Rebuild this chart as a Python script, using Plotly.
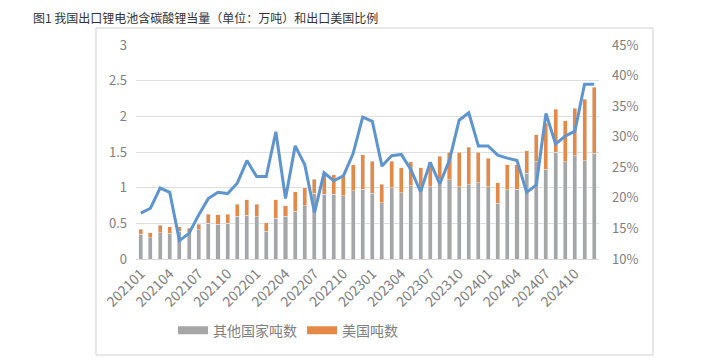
import plotly.graph_objects as go

months = [f"{y}{m:02d}" for y in (2021, 2022, 2023, 2024) for m in range(1, 13)]

other_tons = [0.35, 0.30, 0.37, 0.36, 0.39, 0.37, 0.41, 0.50, 0.49, 0.50, 0.60, 0.61,
              0.59, 0.39, 0.57, 0.60, 0.67, 0.75, 0.92, 0.91, 0.91, 0.89, 0.96, 0.98,
              0.92, 0.79, 1.00, 0.93, 1.03, 1.01, 1.01, 1.12, 1.11, 1.01, 1.04, 1.07,
              1.01, 0.78, 0.97, 0.98, 1.20, 1.36, 1.26, 1.50, 1.36, 1.45, 1.38, 1.48]
us_tons = [0.07, 0.07, 0.10, 0.09, 0.06, 0.06, 0.08, 0.13, 0.13, 0.13, 0.17, 0.22,
           0.18, 0.12, 0.26, 0.15, 0.27, 0.25, 0.20, 0.29, 0.27, 0.28, 0.36, 0.48,
           0.45, 0.26, 0.37, 0.35, 0.33, 0.27, 0.35, 0.32, 0.39, 0.49, 0.53, 0.43,
           0.40, 0.29, 0.35, 0.34, 0.32, 0.38, 0.64, 0.60, 0.58, 0.66, 0.86, 0.93]
us_share = [0.175, 0.183, 0.216, 0.209, 0.130, 0.142, 0.172, 0.199, 0.209, 0.207, 0.224, 0.261,
            0.235, 0.235, 0.308, 0.199, 0.285, 0.254, 0.176, 0.241, 0.228, 0.236, 0.272, 0.332,
            0.325, 0.252, 0.269, 0.271, 0.246, 0.210, 0.258, 0.223, 0.262, 0.327, 0.339, 0.285,
            0.285, 0.270, 0.265, 0.261, 0.209, 0.221, 0.338, 0.288, 0.301, 0.309, 0.386, 0.386]

left_ticks = [0, 0.5, 1, 1.5, 2, 2.5, 3]
left_tick_text = ["0", "0.5", "1", "1.5", "2", "2.5", "3"]
right_ticks = [0.10, 0.15, 0.20, 0.25, 0.30, 0.35, 0.40, 0.45]
right_tick_text = ["10%", "15%", "20%", "25%", "30%", "35%", "40%", "45%"]
x_tick_labels = months[::3]

title_text = "图1 我国出口锂电池含碳酸锂当量（单位：万吨）和出口美国比例"
name_other = "其他国家吨数"
name_us = "美国吨数"

GREY = "#A6A6A6"
ORANGE = "#E58A46"
BLUE = "#5F95CF"
FONT = "Noto Sans CJK SC"
TICK_COLOR = "#808080"

# page body has an 8px default margin, so the figure is 712x356 inside a 720x364 window
W, H = 712, 356

fig = go.Figure()
fig.add_trace(go.Bar(x=months, y=other_tons, name=name_other, marker_color=GREY,
                     showlegend=False, legendgroup="o"))
fig.add_trace(go.Bar(x=months, y=us_tons, name=name_us, marker_color=ORANGE,
                     showlegend=False, legendgroup="u"))
fig.add_trace(go.Scatter(x=months, y=us_share, yaxis="y2", mode="lines",
                         line=dict(color=BLUE, width=3), showlegend=False, name="美国比例"))
# legend entries drawn as wide swatches
fig.add_trace(go.Scatter(x=[None], y=[None], mode="lines", line=dict(color=GREY, width=8),
                         name=name_other, legendgroup="o"))
fig.add_trace(go.Scatter(x=[None], y=[None], mode="lines", line=dict(color=ORANGE, width=8),
                         name=name_us, legendgroup="u"))

fig.update_layout(
    width=W, height=H,
    margin=dict(l=128, r=121, t=37, b=105, autoexpand=False),
    paper_bgcolor="white", plot_bgcolor="white",
    barmode="stack", bargap=0.58,
    font=dict(family=FONT, size=13, color=TICK_COLOR),
    title=dict(text=title_text, x=25 / W, y=1 - 11 / H, xref="container", yref="container",
               xanchor="left", yanchor="middle", font=dict(size=12, color="#333333", family=FONT)),
    xaxis=dict(type="category", tickmode="array", tickvals=x_tick_labels, ticktext=x_tick_labels,
               tickangle=-45, showgrid=False, showline=True, linecolor="#D9D9D9",
               ticks="", automargin=False, tickfont=dict(size=14, color=TICK_COLOR)),
    yaxis=dict(range=[0, 3], tickvals=left_ticks, ticktext=left_tick_text,
               showgrid=True, gridcolor="#DEDEDE", gridwidth=1, zeroline=False, automargin=False,
               ticks="", ticklabelstandoff=8, tickfont=dict(size=13, color=TICK_COLOR)),
    yaxis2=dict(range=[0.10, 0.45], tickvals=right_ticks, ticktext=right_tick_text,
                overlaying="y", side="right", showgrid=False, zeroline=False, automargin=False,
                ticks="", ticklabelstandoff=12, tickfont=dict(size=13, color=TICK_COLOR)),
    legend=dict(orientation="h", x=0.08, y=-0.335, xanchor="left", yanchor="middle",
                font=dict(size=14, color=TICK_COLOR), itemwidth=30, bgcolor="rgba(0,0,0,0)"),
    shapes=[dict(type="rect", xref="paper", yref="paper", x0=-0.0864, x1=1.1166,
                 y0=-0.4486, y1=1.0794, line=dict(color="#D0D0D0", width=1), layer="below")],
)

fig.write_html("out.html")
